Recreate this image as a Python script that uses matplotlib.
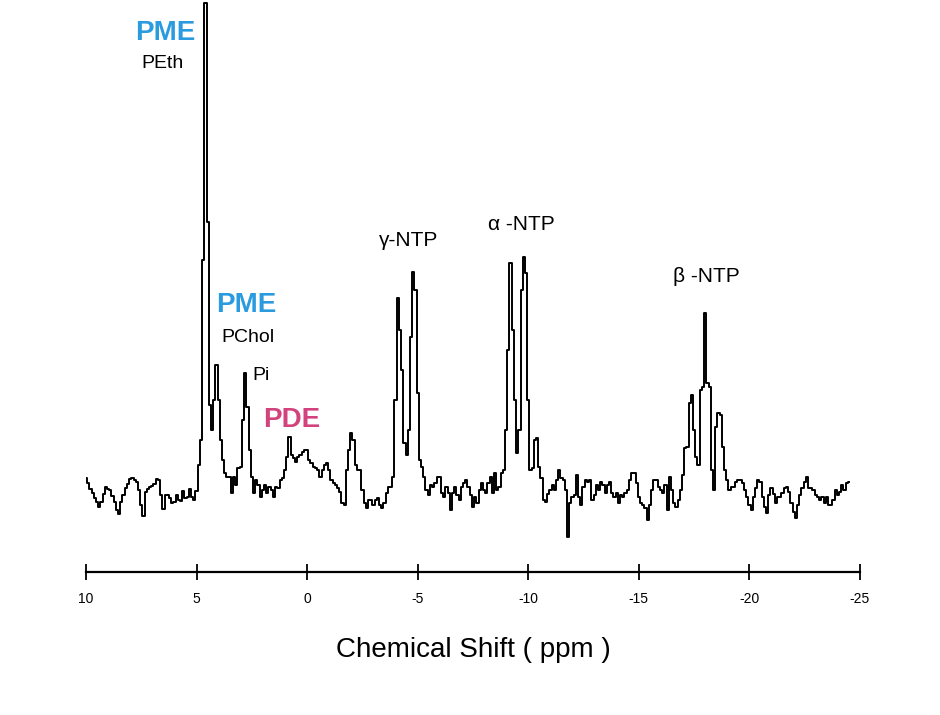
import numpy as np
import matplotlib
matplotlib.use("Agg")
import matplotlib.pyplot as plt

plt.rcParams['axes.unicode_minus'] = False
plt.rcParams['font.family'] = ['Liberation Sans', 'DejaVu Sans']

# 31P spectrum, sampled every 0.1 ppm from 10.0 down to -24.5 ppm
ppm_start = 10.0
ppm_step = 0.1
intensity = [
    12, 7, 1, -3, -8, -12, -17, -12, -4, 3,
    1, 0, -6, -12, -20, -24, -12, -5, 2, 6,
    11, 12, 10, 8, 0, -15, -26, -2, 1, 3,
    4, 6, 11, 10, -5, -19, -5, -5, -8, -13,
    -12, -5, -10, -11, -1, -8, -7, 1, -7, -10,
    -1, 25, 50, 230, 487, 268, 85, 60, 90, 125,
    90, 50, 30, 17, 13, 13, -3, 13, 5, 22,
    23, 70, 117, 83, 40, 13, -3, 10, 5, -7,
    0, 5, -3, 3, 0, -7, 3, 2, 10, 12,
    20, 33, 53, 35, 32, 28, 33, 35, 38, 40,
    40, 30, 27, 23, 22, 20, 13, 20, 25, 27,
    20, 10, 7, 5, 2, -2, -13, -15, 20, 40,
    57, 50, 25, 20, 20, 0, -13, -18, -10, -10,
    -15, -10, -8, -15, -18, -13, -3, 3, 3, 13,
    90, 192, 160, 120, 47, 35, 60, 153, 218, 200,
    97, 30, 23, 13, 0, -5, 5, 3, 7, 13,
    13, -3, -7, 3, -3, -20, -3, 3, -5, -10,
    3, 7, 10, 3, -5, -17, -7, -13, 0, 7,
    0, -3, 7, 13, -3, 17, 0, 3, 17, 20,
    60, 140, 227, 160, 90, 37, 60, 200, 233, 217,
    90, 20, 22, 50, 52, 23, 12, -10, -12, -4,
    0, 5, 0, 10, 20, 12, 10, 0, -47, -13,
    -7, -5, 15, -7, -15, 3, 10, 8, 10, -10,
    -5, 5, 0, 8, 5, -3, 5, 8, -3, -7,
    -3, -13, -5, -7, -3, 0, 10, 17, 17, 7,
    -7, -13, -15, -18, -30, -15, 0, 10, 10, 3,
    0, -3, 5, -20, 13, 0, -13, -17, -10, 0,
    15, 42, 43, 87, 95, 60, 33, 25, 100, 103,
    177, 107, 103, 20, 0, 63, 77, 75, 43, 20,
    10, 0, 3, 3, 8, 10, 10, 7, 0, -7,
    -15, -20, -7, 2, 10, 8, -7, -17, -23, -5,
    2, -4, -13, -7, -7, -3, 2, 3, -2, -13,
    -22, -28, -15, -5, 2, 8, 13, 2, 2, 0,
    -5, -7, -10, -7, -13, -7, -15, -15, -10, 0,
    -5, -2, 5, 0, 7, 8,
]
ppm = ppm_start - ppm_step * np.arange(len(intensity))

fig = plt.figure(figsize=(9.4, 7.15), dpi=100)
ax = fig.add_axes([86 / 940, 0.2, 774 / 940, 0.8])

ax.plot(ppm, intensity, color='black', lw=1.4, drawstyle='steps-mid')

ax.set_xlim(10, -25)
ax.set_ylim(-82, 490)
ax.set_xticks([10, 5, 0, -5, -10, -15, -20, -25])
ax.tick_params(axis='x', direction='inout', length=11, width=1.3,
               pad=9, labelsize=10)
ax.set_yticks([])
for s in ['top', 'left', 'right']:
    ax.spines[s].set_visible(False)
ax.spines['bottom'].set_linewidth(1.6)
ax.set_xlabel('Chemical Shift ( ppm )', fontsize=20, labelpad=22)

blue = '#2b9be0'
pink = '#d2427c'
ax.text(6.43, 457, 'PME', color=blue, fontsize=20, fontweight='bold',
        ha='center', va='center')
ax.text(6.52, 427, 'PEth', fontsize=14, ha='center', va='center')
ax.text(2.76, 185, 'PME', color=blue, fontsize=20, fontweight='bold',
        ha='center', va='center')
ax.text(2.67, 153, 'PChol', fontsize=14, ha='center', va='center')
ax.text(2.08, 114, 'Pi', fontsize=14, ha='center', va='center')
ax.text(0.68, 70, 'PDE', color=pink, fontsize=20, fontweight='bold',
        ha='center', va='center')
ax.text(-4.57, 250, 'γ-NTP', fontsize=15, ha='center', va='center')
ax.text(-9.68, 265, 'α -NTP', fontsize=15, ha='center', va='center')
ax.text(-18.05, 213, 'β -NTP', fontsize=15, ha='center', va='center')

fig.savefig('out.png', dpi=100)
